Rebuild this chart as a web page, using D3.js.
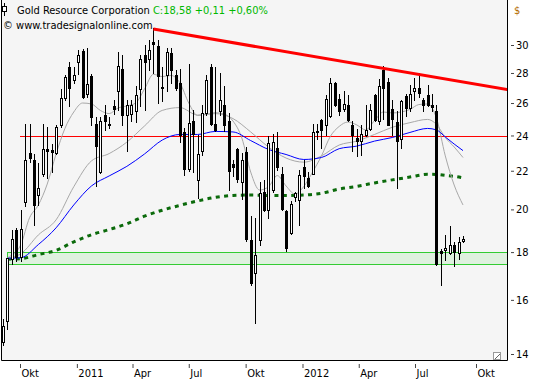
<!DOCTYPE html>
<html><head><meta charset="utf-8">
<script src="https://cdn.jsdelivr.net/npm/d3@7/dist/d3.min.js"></script>
<style>
html,body{margin:0;padding:0;background:#fff;}
svg{display:block;}
text{font-family:"DejaVu Sans Condensed","DejaVu Sans",sans-serif;font-size:11px;}
</style></head><body>
<svg id="c" width="533" height="380"></svg>
<script>
// ---- data (weekly candles) ----
const openP = [14.42,15.2,17.7,19.0,17.8,20.35,23.0,22.6,20.7,21.8,
23.2,23.15,23.0,24.6,26.3,28.4,27.5,28.8,29.57,26.6,
27.8,24.7,21.95,25.24,24.7,25.8,26.8,28.3,25.24,25.3,
25.5,26.9,29.27,29.0,30.25,29.9,27.05,27.86,29.4,27.86,
27.3,24.2,22.1,24.9,21.51,23.1,25.35,28.4,24.7,25.5,
25.9,24.9,22.35,23.2,21.4,23.05,18.55,17.1,18.55,20.9,
19.97,20.98,23.25,21.85,19.9,18.85,20.64,20.47,22.2,21.6,
21.85,24.25,24.95,24.63,25.2,27.3,26.25,25.6,25.9,24.63,
23.85,23.7,24.03,24.4,26.55,24.85,28.2,27.4,25.6,24.8,
23.8,26.45,25.7,26.75,26.95,26.2,26.5,25.87,25.5,18.05,
18.1,17.95,18.32,17.95,18.5];
const highP = [15.25,17.75,19.0,19.1,19.97,24.7,24.7,22.9,22.4,24.7,
24.5,23.5,24.6,26.9,27.86,28.8,28.4,29.6,29.7,29.75,
27.9,25.1,25.1,25.9,25.1,26.2,29.5,29.27,26.2,26.2,
27.1,29.3,30.0,30.4,31.25,30.4,28.4,29.75,29.75,28.2,
28.3,24.45,28.6,25.56,24.03,25.87,27.86,28.6,28.4,28.0,
27.1,25.35,22.6,23.25,23.0,23.3,19.7,19.6,21.4,21.5,
23.95,24.1,24.2,22.2,19.95,20.4,20.9,22.04,22.6,21.95,
24.7,24.7,25.0,26.5,27.65,27.35,26.6,26.8,26.5,24.85,
24.4,24.63,25.9,25.95,26.6,27.6,28.5,27.65,26.2,25.5,
26.2,26.6,27.2,27.65,28.0,26.3,27.15,26.6,25.87,18.15,
18.78,19.2,18.45,18.7,18.75];
const lowP = [14.3,14.9,17.5,17.6,17.6,20.15,22.5,19.25,20.2,21.7,
21.6,21.95,22.95,24.5,26.2,25.8,27.3,27.9,26.3,26.4,
24.6,21.2,21.9,24.3,24.45,25.3,25.56,24.6,23.1,24.9,
24.8,25.8,25.56,28.2,28.0,26.0,26.1,26.8,27.3,26.85,
23.6,21.77,22.0,21.95,20.55,22.87,25.24,24.63,24.25,25.24,
24.25,20.98,21.7,21.4,20.5,18.5,16.6,15.1,18.32,19.9,
19.6,20.9,22.04,19.97,18.05,18.8,20.4,19.25,21.1,21.15,
21.8,23.8,23.25,24.0,25.1,25.8,25.24,25.5,24.9,23.1,
22.8,22.87,23.95,24.35,24.9,24.7,25.0,24.6,24.03,21.1,
23.25,25.15,25.5,26.2,26.4,25.5,25.8,25.5,17.44,16.6,
17.66,17.9,17.4,17.7,18.45];
const closeP = [15.0,17.73,18.6,17.8,19.05,22.6,22.7,20.2,21.1,23.2,
23.1,23.05,24.5,26.3,27.7,27.0,27.86,29.3,26.4,27.25,
25.1,23.4,24.9,24.9,24.6,25.6,28.5,25.24,25.9,25.87,
26.55,29.0,28.8,29.63,30.1,27.8,26.95,29.5,28.2,26.95,
24.03,22.1,24.75,24.1,22.95,25.35,27.52,24.7,24.33,26.2,
24.63,22.0,22.2,21.55,22.6,18.6,16.7,17.87,20.8,19.97,
23.55,23.6,22.2,20.0,18.2,20.26,20.82,21.77,21.7,21.2,
24.2,24.2,24.3,26.25,27.3,25.87,25.5,25.95,24.95,24.0,
23.7,24.1,24.33,25.56,24.95,27.1,27.0,24.65,25.0,23.7,
26.1,25.7,26.6,26.95,26.65,25.87,25.9,25.77,17.48,17.95,
18.2,18.3,18.0,18.47,18.58];

// moving averages (bar index, value)
const fastIdx = [1,2,4,6,8,10,12,14,16,18,20,22,24,26,28,30,32,34,36,38,40,42,44,46,48,50,52,54,56,58,60,62,64,66,68,70,72,74,76,78,80,82,84,86,88,90,92,94,96,98,100,102,104];
const maFast = [17.75,17.87,18.32,19.59,20.22,21.29,22.93,24.42,25.43,26.0,25.94,25.53,25.33,25.68,25.81,26.0,26.92,27.91,27.75,27.83,27.32,26.0,25.21,25.27,25.39,25.3,24.87,23.85,21.93,20.98,21.14,21.74,21.19,20.77,21.16,21.93,22.82,23.94,24.54,24.81,24.63,24.33,24.9,25.43,25.37,25.43,25.59,25.9,25.94,25.05,22.82,21.24,20.22];
const slowIdx = [1,4,8,12,16,20,24,28,32,36,40,44,48,52,56,60,64,68,72,76,80,84,88,92,96,98,100,102,104];
const maSlow = [17.73,17.92,18.78,19.49,21.15,22.54,22.95,23.61,24.57,25.53,25.71,25.24,25.33,25.02,24.21,23.33,22.7,22.47,22.82,23.44,23.67,24.06,24.49,24.77,24.97,24.66,23.88,23.33,22.73];
const maBlue = [17.73,17.75,18.34,19.11,20.22,21.19,21.72,22.24,22.93,23.73,24.06,24.06,24.24,24.21,23.7,23.19,22.9,22.62,22.73,23.23,23.38,23.67,23.88,24.18,24.42,24.33,23.91,23.5,23.12];
const maLong = [17.69,17.71,17.89,18.08,18.46,18.79,19.03,19.3,19.67,19.96,20.2,20.42,20.6,20.7,20.72,20.7,20.7,20.72,20.81,21.03,21.17,21.35,21.51,21.66,21.81,21.8,21.75,21.7,21.62];

// drawing tools
const zone = [17.47, 18.02];      const zoneStart = 1;
const hLevel = 23.95;             const hLevelStart = 3.85;
const trendPts = [[34, 31.2], [114, 26.88]];

// axes
const yTicks = [14,16,18,20,22,24,26,28,30];
const xTickDates = ["2010-10-01","2011-01-01","2011-04-01","2011-07-01","2011-10-01","2012-01-01","2012-04-01","2012-07-01","2012-10-01"];
const xTickLabels = ["Okt","2011","Apr","Jul","Okt","2012","Apr","Jul","Okt"];

const svg = d3.select("#c");
const L = 1, R = 507, T = 0, B = 360;

const x = d3.scaleLinear().domain([0, 104]).range([3, 463]);
const xTime = d3.scaleTime()
  .domain([new Date(2010,9,1), new Date(2012,6,1), new Date(2012,9,1)])
  .range([20, 415, 476]);
const y = d3.scaleLog().domain([14, 30]).range([354, 45]);

svg.append("rect").attr("x",L).attr("y",T).attr("width",R-L).attr("height",B-T).attr("fill","#f5f5f5");

svg.append("defs").append("clipPath").attr("id","clip")
  .append("rect").attr("x",L+1).attr("y",T).attr("width",R-L-1).attr("height",B-T);
const g = svg.append("g").attr("clip-path","url(#clip)");

// zone
g.append("rect")
  .attr("x", Math.round(x(zoneStart))+0.5).attr("y", Math.round(y(zone[1]))+0.5)
  .attr("width", R - Math.round(x(zoneStart))).attr("height", Math.round(y(zone[0]))-Math.round(y(zone[1])))
  .attr("fill","#dff1df").attr("stroke","#33cc33").attr("stroke-width",1);

// horizontal level
g.append("line").attr("x1", x(hLevelStart)).attr("x2", R)
  .attr("y1", Math.round(y(hLevel))+0.5).attr("y2", Math.round(y(hLevel))+0.5)
  .attr("stroke","#ff0000").attr("stroke-width",1);

// MAs
const mk = (idx, vals) => idx.map((k,i)=>[k, vals[i]]);
const line = d3.line().x(d=>x(d[0])).y(d=>y(d[1])).curve(d3.curveMonotoneX);
g.append("path").attr("d", line(mk(slowIdx, maLong))).attr("fill","none")
  .attr("stroke","#0b6a0b").attr("stroke-width",3).attr("stroke-dasharray","4,4.4");
g.append("path").attr("d", line(mk(slowIdx, maSlow))).attr("fill","none").attr("stroke","#a8a8a8").attr("stroke-width",1);
g.append("path").attr("d", line(mk(fastIdx, maFast))).attr("fill","none").attr("stroke","#a8a8a8").attr("stroke-width",1);
g.append("path").attr("d", line(mk(slowIdx, maBlue))).attr("fill","none").attr("stroke","#0000ff").attr("stroke-width",1);

// candles
const candles = openP.map((o,i)=>({i, o, h:highP[i], l:lowP[i], c:closeP[i]}));
const cg = g.append("g").attr("shape-rendering","crispEdges");
candles.forEach(d=>{
  const cx = Math.round(x(d.i));
  cg.append("line").attr("x1",cx+0.5).attr("x2",cx+0.5)
    .attr("y1",Math.round(y(d.h))).attr("y2",Math.round(y(d.l))+1).attr("stroke","#000");
  const yt = Math.round(y(Math.max(d.o,d.c))), yb = Math.round(y(Math.min(d.o,d.c)));
  if (d.c >= d.o) {
    cg.append("rect").attr("x",cx-0.5).attr("y",yt+0.5).attr("width",2).attr("height",Math.max(1,yb-yt))
      .attr("fill","#fff").attr("stroke","#000").attr("stroke-width",1);
  } else {
    cg.append("rect").attr("x",cx-1).attr("y",yt).attr("width",3).attr("height",Math.max(1,yb-yt+1))
      .attr("fill","#000");
  }
});

// trend line
g.append("line").attr("x1",x(trendPts[0][0])).attr("y1",y(trendPts[0][1]))
  .attr("x2",x(trendPts[1][0])).attr("y2",y(trendPts[1][1]))
  .attr("stroke","#ff0000").attr("stroke-width",3);

// frame
svg.append("path").attr("d",`M${L+0.5},0V${B+0.5}H${R+0.5}V0`).attr("fill","none").attr("stroke","#000").attr("stroke-width",1);
// resize glyph
svg.append("rect").attr("x",493.5).attr("y",352.5).attr("width",7).attr("height",7).attr("fill","#fff").attr("stroke","#999");
svg.append("line").attr("x1",495).attr("y1",359).attr("x2",500).attr("y2",354).attr("stroke","#666");

// y axis
const ya = svg.append("g").attr("transform",`translate(${R+4},0)`)
  .call(d3.axisRight(y).tickValues(yTicks).tickSize(3).tickPadding(2).tickFormat(d3.format("d")));
ya.select(".domain").remove();
ya.selectAll(".tick line").attr("stroke","#444");
ya.selectAll("text").attr("fill","#000").style("font-size","11px");
svg.append("text").attr("x",514).attr("y",14).attr("fill","#b36b00").text("$");

// x axis
const xa = svg.append("g").attr("transform",`translate(0,${B+4})`)
  .call(d3.axisBottom(xTime).tickValues(xTickDates.map(s=>new Date(s+"T00:00:00"))).tickSize(4)
    .tickFormat((d,i)=>xTickLabels[i]));
xa.select(".domain").remove();
xa.selectAll(".tick line").attr("stroke","#444");
xa.selectAll("text").attr("fill","#000").attr("text-anchor","start").attr("x",1).attr("y",13).attr("dy",null).style("font-size","11px");

// header
const hd = svg.append("text").attr("x",17).attr("y",14);
hd.append("tspan").attr("fill","#000").text("Gold Resource Corporation ");
hd.append("tspan").attr("fill","#00b800").text("C:18,58 +0,11 +0,60%");
svg.append("text").attr("x",3).attr("y",29).attr("fill","#000").text("© www.tradesignalonline.com");
// header glyph
svg.append("line").attr("x1",4.5).attr("x2",4.5).attr("y1",3).attr("y2",16).attr("stroke","#000");
svg.append("rect").attr("x",2.5).attr("y",6.5).attr("width",4).attr("height",5).attr("fill","#fff").attr("stroke","#000");
</script>
</body></html>
